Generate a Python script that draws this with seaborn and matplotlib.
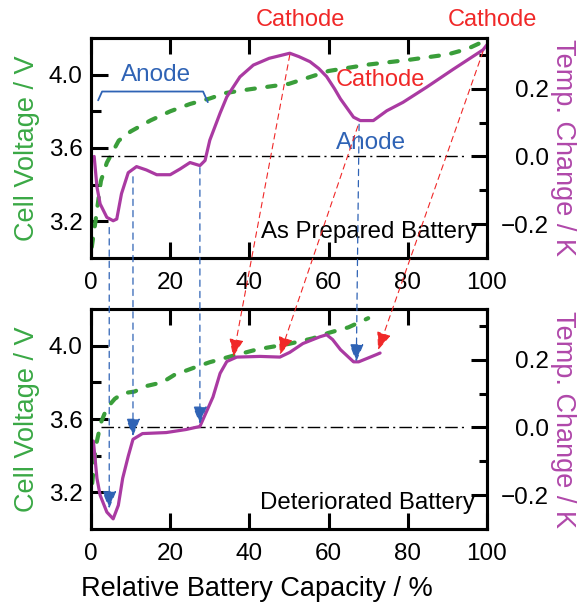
import pandas as pd
import matplotlib
matplotlib.use("Agg")
import matplotlib.pyplot as plt
from matplotlib.patches import ConnectionPatch
import seaborn as sns

# ---- data ----
# top panel: as prepared battery
cap_v_top = [0.2, 1, 2.5, 4, 5.5, 7, 10, 15, 20, 25, 30, 34, 40, 50, 60, 70, 80, 90, 95, 100]
volt_top = [3.06, 3.18, 3.42, 3.52, 3.58, 3.64, 3.69, 3.75, 3.80, 3.84, 3.87, 3.90, 3.92, 3.95,
            4.02, 4.055, 4.08, 4.11, 4.14, 4.19]
cap_t_top = [0.8, 1.5, 2.3, 4, 5.6, 6.5, 7.7, 9.4, 11.5, 14, 16.6, 20, 22.5, 25, 27.5, 28.8, 30,
             32.6, 34.3, 37.6, 41, 45, 50.2, 52.5, 55.3, 57.5, 59.5, 61.5, 63, 66.3, 68, 71.3,
             74.7, 78.8, 84.8, 91.4, 99, 100]
temp_top = [0.0, -0.09, -0.14, -0.18, -0.19, -0.185, -0.11, -0.048, -0.03, -0.04, -0.054, -0.054,
            -0.037, -0.018, -0.027, -0.012, 0.048, 0.128, 0.176, 0.235, 0.27, 0.29, 0.305, 0.295,
            0.28, 0.26, 0.236, 0.20, 0.17, 0.116, 0.106, 0.106, 0.135, 0.16, 0.205, 0.257,
            0.315, 0.33]

# bottom panel: deteriorated battery
cap_v_bot = [0.3, 1.2, 2.5, 4, 6, 8, 11, 14, 18, 21, 26, 30, 35, 42, 50, 56, 60, 65, 70]
volt_bot = [3.25, 3.45, 3.58, 3.66, 3.71, 3.74, 3.75, 3.78, 3.80, 3.84, 3.88, 3.91, 3.94, 3.98,
            4.01, 4.04, 4.07, 4.10, 4.15]
cap_t_bot = [0.6, 1.5, 2.3, 4, 5.6, 6.9, 8, 9.4, 10.6, 13, 19, 24, 27.5, 30.8, 32.6, 34.3, 36.8,
             42.7, 47.7, 50.2, 53.5, 57.8, 59.5, 61, 63, 66.3, 67.6, 69.7, 72, 73]
temp_bot = [-0.04, -0.15, -0.2, -0.25, -0.27, -0.23, -0.15, -0.085, -0.035, -0.018, -0.015,
            -0.006, 0.003, 0.09, 0.16, 0.195, 0.208, 0.21, 0.208, 0.222, 0.248, 0.268, 0.274,
            0.26, 0.23, 0.194, 0.194, 0.204, 0.215, 0.22]

# annotation links (capacity %, temp K): top panel point -> bottom panel point
blue_from = [(4.6, -0.21), (10.6, -0.06), (27.5, -0.033), (67.7, 0.095)]
blue_to = [(4.6, -0.24), (10.6, -0.026), (27.5, 0.01), (67.0, 0.194)]
red_from = [(50.2, 0.30), (67.4, 0.09), (99.0, 0.31)]
red_to = [(35.9, 0.209), (47.7, 0.215), (72.5, 0.229)]

# anode bracket (capacity %, voltage)
bracket_x = [1.8, 2.8, 28.3, 29.5]
bracket_y = [3.86, 3.908, 3.908, 3.85]

x_ticks = [0, 20, 40, 60, 80, 100]

GREEN = "#3a9e3a"
MAGENTA = "#aa3aa2"
RED = "#f02828"
BLUE = "#2f63b5"

sns.set_style("ticks")
plt.rcParams["font.family"] = ["Liberation Sans", "DejaVu Sans"]
plt.rcParams["axes.linewidth"] = 2.2
for key in ["text.color", "axes.labelcolor", "xtick.color", "ytick.color", "axes.edgecolor"]:
    plt.rcParams[key] = "black"

fig = plt.figure(figsize=(5.83, 6.05), dpi=100)
ax1 = fig.add_axes([0.1561, 0.5736, 0.6792, 0.3636])
ax2 = fig.add_axes([0.1561, 0.1256, 0.6792, 0.3636])
ax1r = ax1.twinx()
ax2r = ax2.twinx()

top_v = pd.DataFrame({"cap": cap_v_top, "volt": volt_top})
top_t = pd.DataFrame({"cap": cap_t_top, "temp": temp_top})
bot_v = pd.DataFrame({"cap": cap_v_bot, "volt": volt_bot})
bot_t = pd.DataFrame({"cap": cap_t_bot, "temp": temp_bot})

for axl, axr, dv, dt in [(ax1, ax1r, top_v, top_t), (ax2, ax2r, bot_v, bot_t)]:
    sns.lineplot(data=dv, x="cap", y="volt", ax=axl, color=GREEN, lw=3,
                 ls=(0, (2, 3)), dash_capstyle="round", sort=False)
    sns.lineplot(data=dt, x="cap", y="temp", ax=axr, color=MAGENTA, lw=2.3, sort=False)
    # zero line
    axr.plot([2.5, 95], [0, 0], color="black", lw=1.0, ls=(0, (9, 3, 1.5, 3)), zorder=1)

    axl.set_xlim(0, 100)
    axl.set_ylim(3.0, 4.2)
    axr.set_ylim(-0.3, 0.35)
    axl.set_xticks(x_ticks)
    axl.set_yticks([3.2, 3.6, 4.0])
    axl.set_yticks([3.4, 3.8], minor=True)
    axr.set_yticks([-0.2, 0.0, 0.2])
    axr.set_yticks([-0.1, 0.1, 0.3], minor=True)
    axl.set_yticklabels(["3.2", "3.6", "4.0"])
    axr.set_yticklabels(["\u22120.2", "0.0", "0.2"])

    axl.tick_params(axis="x", which="major", direction="in", length=11.5, width=2.2,
                    top=True, labelsize=17.5, pad=10)
    axl.tick_params(axis="y", which="major", direction="in", length=12, width=2.2,
                    labelsize=17.5, pad=6)
    axl.tick_params(axis="y", which="minor", direction="in", length=7, width=2.2)
    axr.tick_params(axis="y", which="major", direction="in", length=11.5, width=2.2,
                    labelsize=17.5, pad=44.5)
    axr.tick_params(axis="y", which="minor", direction="in", length=6, width=2.2)
    for lab in axr.get_yticklabels():
        lab.set_horizontalalignment("right")

    axl.set_xlabel("")
    axl.set_ylabel("Cell Voltage / V", color="#3aa845", fontsize=19.5)
    axr.set_ylabel("Temp. Change / K", color="#b048aa", fontsize=19.5, rotation=-90)
    axl.yaxis.set_label_coords(-0.129, 0.5)
    axr.yaxis.set_label_coords(1.225, 0.5)
    for sp in axr.spines.values():
        sp.set_linewidth(2.2)

ax2.set_xlabel("Relative Battery Capacity / %", fontsize=19.5)
ax2.xaxis.set_label_coords(0.42, -0.215)

# panel captions
ax1r.text(0.975, 0.118, "As Prepared Battery", transform=ax1r.transAxes, fontsize=17.3,
          ha="right", va="center")
ax2r.text(0.97, 0.118, "Deteriorated Battery", transform=ax2r.transAxes, fontsize=17.3,
          ha="right", va="center")

# anode / cathode labels
ax1.plot(bracket_x, bracket_y, color=BLUE, lw=1.3, clip_on=False)
ax1r.text(16.5, 0.83, "Anode", color=BLUE, fontsize=17.5, ha="center", va="center",
          transform=ax1r.get_xaxis_transform())
ax1r.text(70.7, 0.523, "Anode", color=BLUE, fontsize=17.5, ha="center", va="center",
          transform=ax1r.get_xaxis_transform())
ax1r.text(73.0, 0.81, "Cathode", color=RED, fontsize=17, ha="center", va="center",
          transform=ax1r.get_xaxis_transform(), zorder=5)
ax1r.text(53.0, 1.082, "Cathode", color=RED, fontsize=17, ha="center", va="center",
          transform=ax1r.get_xaxis_transform(), clip_on=False)
ax1r.text(101.5, 1.082, "Cathode", color=RED, fontsize=17, ha="center", va="center",
          transform=ax1r.get_xaxis_transform(), clip_on=False)

# links between the two panels
for (xa, ya), (xb, yb) in zip(blue_from, blue_to):
    con = ConnectionPatch(xyA=(xa, ya), coordsA=ax1r.transData, xyB=(xb, yb),
                          coordsB=ax2r.transData, arrowstyle="-|>,head_length=0.55,head_width=0.22",
                          mutation_scale=20, color=BLUE, lw=0.9, ls=(0, (5, 4)), zorder=6)
    fig.add_artist(con)
for (xa, ya), (xb, yb) in zip(red_from, red_to):
    con = ConnectionPatch(xyA=(xa, ya), coordsA=ax1r.transData, xyB=(xb, yb),
                          coordsB=ax2r.transData, arrowstyle="-|>,head_length=0.55,head_width=0.22",
                          mutation_scale=20, color=RED, lw=0.8, ls=(0, (5, 4)), zorder=6)
    fig.add_artist(con)

plt.savefig("out.png", dpi=100)
